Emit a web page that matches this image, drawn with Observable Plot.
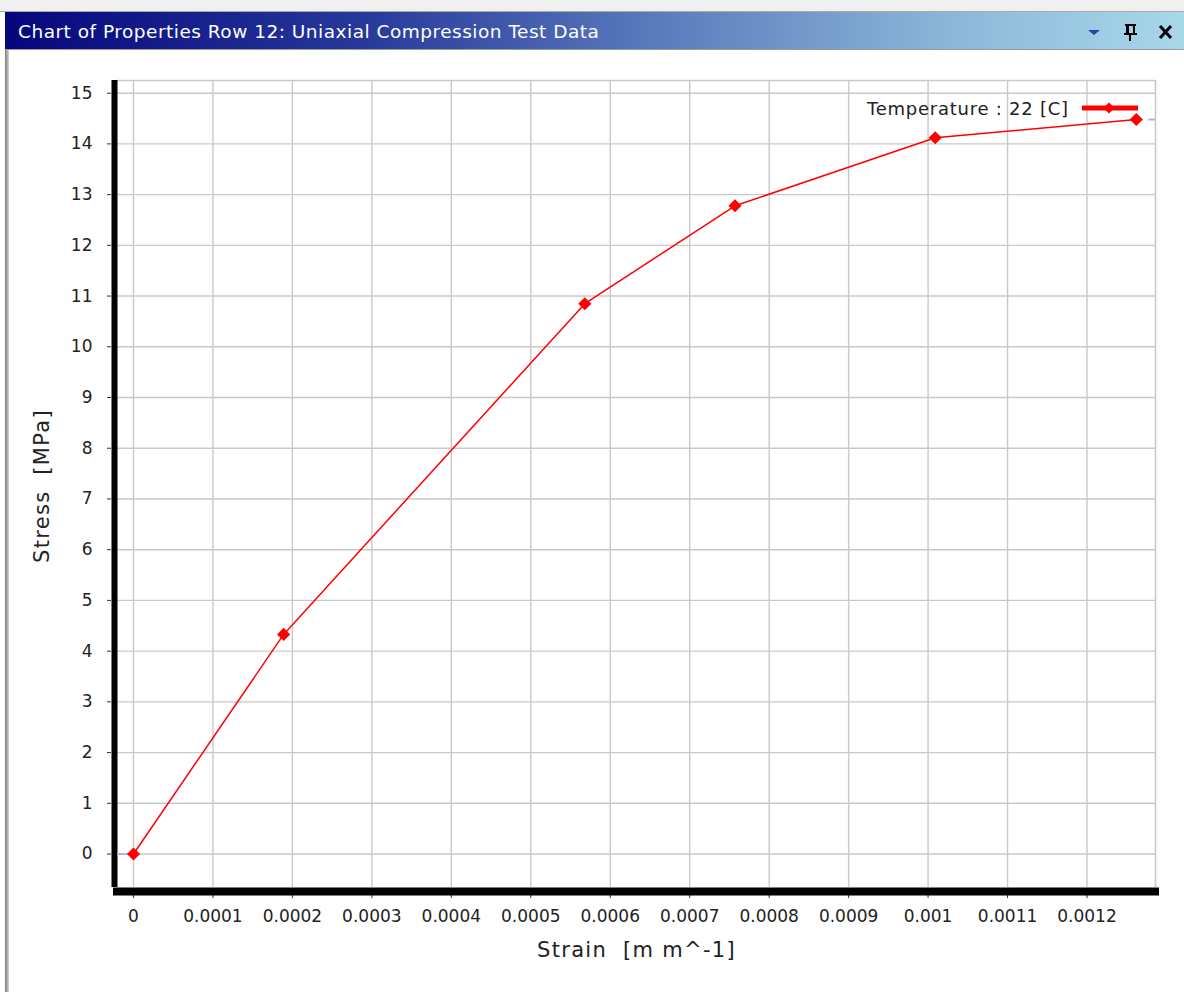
<!DOCTYPE html>
<html>
<head>
<meta charset="utf-8">
<script src="https://cdn.jsdelivr.net/npm/d3@7"></script>
<script src="https://cdn.jsdelivr.net/npm/@observablehq/plot@0.6"></script>
<style>
  html, body { margin: 0; padding: 0; background: #ffffff; width: 1184px; height: 992px; overflow: hidden; }
  #topstrip { position: absolute; left: 0; top: 0; width: 1184px; height: 11px; background: #f0f0f0; border-bottom: 1px solid #a8a8a8; }
  #bar { position: absolute; left: 5px; top: 12px; width: 1179px; height: 37px;
         background: linear-gradient(to right, #06067c 0%, #26389a 30%, #5a7abc 55%, #8cb6d8 80%, #a8d8ea 100%);
         border-bottom: 1px solid #9a9a9a; }
  #title { position: absolute; left: 13px; top: 8px; color: #ffffff; font-family: "DejaVu Sans", sans-serif;
           font-size: 18.5px; letter-spacing: 0.5px; white-space: pre; line-height: 24px; }
  #icons { position: absolute; left: 1080px; top: 20px; }
  #leftedge { position: absolute; left: 5px; top: 50px; width: 4px; height: 942px; background: linear-gradient(to right, #7c7c7c, #d4d4d4); }
  #chart { position: absolute; left: 0; top: 50px; }
  #chart svg text { white-space: pre; }
  #chart svg g[aria-label="text"] text { letter-spacing: 1.3px; }
  #legend { position: absolute; left: 867px; top: 96px; height: 24px; display: flex; align-items: center;
            font-family: "DejaVu Sans", sans-serif; font-size: 18px; letter-spacing: 0.75px; color: #222; white-space: pre; }
</style>
</head>
<body>
<div id="topstrip"></div>
<div id="leftedge"></div>
<div id="chart"></div>
<div id="bar"><div id="title"></div></div>
<svg id="icons" width="100" height="24" viewBox="0 0 100 24">
  <path d="M8,10 L20,10 L14,15 Z" fill="#3040a0"/>
  <g fill="#000">
    <rect x="45" y="4" width="11" height="2"/>
    <rect x="46" y="4" width="3" height="10"/>
    <rect x="53" y="4" width="2" height="10"/>
    <rect x="44" y="13" width="13" height="2"/>
    <rect x="49" y="15" width="2" height="6"/>
  </g>
  <path d="M80,6 L91,18 M91,6 L80,18" stroke="#000" stroke-width="3"/>
</svg>
<div id="legend"><span id="legendText"></span><svg width="64" height="14" style="margin-left:11px"><line x1="2" y1="7" x2="58" y2="7" stroke="#ff0000" stroke-width="5"/><path d="M29,1.5 L34.5,7 L29,12.5 L23.5,7 Z" fill="#ff0000"/></svg></div>
<script>
// ---- data ----
const titleText = "Chart of Properties Row 12: Uniaxial Compression Test Data";
const strain = [0, 0.000189, 0.000568, 0.000757, 0.001009, 0.001262];
const stress = [0, 4.33, 10.85, 12.78, 14.12, 14.48];
const xTicks = [0, 0.0001, 0.0002, 0.0003, 0.0004, 0.0005, 0.0006, 0.0007, 0.0008, 0.0009, 0.001, 0.0011, 0.0012];
const yTicks = [0, 1, 2, 3, 4, 5, 6, 7, 8, 9, 10, 11, 12, 13, 14, 15];
const xLabel = "Strain  [m m^-1]";
const yLabel = "Stress  [MPa]";
const legendLabel = "Temperature : 22 [C]";
const xDomain = [-0.0000201, 0.0012862];
const yDomain = [-0.66, 15.25];

document.getElementById("title").textContent = titleText;
document.getElementById("legendText").textContent = legendLabel;

const data = strain.map((x, i) => ({x, y: stress[i]}));
const first = data[0];
const last = data[data.length - 1];
const gridColor = "#c9c9c9";

const chart = Plot.plot({
  width: 1184,
  height: 942,
  marginLeft: 117,
  marginRight: 29,
  marginTop: 30,
  marginBottom: 105,
  style: {background: "transparent", fontFamily: "DejaVu Sans, sans-serif", fontSize: "17px", color: "#222"},
  x: {domain: xDomain},
  y: {domain: yDomain},
  marks: [
    Plot.gridX(xTicks, {stroke: gridColor, strokeOpacity: 1, strokeWidth: 1.4}),
    Plot.gridY(yTicks, {stroke: gridColor, strokeOpacity: 1, strokeWidth: 1.4}),
    Plot.ruleY([yDomain[1]], {stroke: gridColor, strokeWidth: 1.6}),
    Plot.ruleX([xDomain[1]], {stroke: gridColor, strokeWidth: 1.6}),
    Plot.axisX(xTicks, {tickSize: 3, tickPadding: 11, dy: 8, stroke: "#333", fill: "#222", fontSize: 17,
      tickFormat: d => String(+d.toFixed(4)), label: null}),
    Plot.axisY(yTicks, {tickSize: 4, tickPadding: 15, dx: -6, stroke: "#333", fill: "#222", fontSize: 17,
      tickFormat: d => String(d), label: null}),
    Plot.ruleX([xDomain[0]], {stroke: "#000", strokeWidth: 6, dx: -3}),
    Plot.ruleY([yDomain[0]], {stroke: "#000", strokeWidth: 8, dy: 4, strokeLinecap: "square"}),
    Plot.ruleY([first], {y: "y", x1: xDomain[0], x2: first.x, stroke: "#aab0f0", strokeWidth: 2}),
    Plot.ruleY([last], {y: "y", x1: last.x + 0.000016, x2: xDomain[1], stroke: "#aab0f0", strokeWidth: 2}),
    Plot.line(data, {x: "x", y: "y", stroke: "#ff0000", strokeWidth: 1.5}),
    Plot.dot(data, {x: "x", y: "y", symbol: "diamond2", r: 5.9, fill: "#ff0000", stroke: "none"}),
    Plot.text([xLabel], {text: d => d, frameAnchor: "bottom", textAnchor: "middle", lineAnchor: "middle", dy: 63,
      fontSize: 21, fill: "#222"}),
    Plot.text([yLabel], {text: d => d, frameAnchor: "left", textAnchor: "middle", lineAnchor: "middle", rotate: -90,
      dx: -75, dy: 2, fontSize: 21, fill: "#222"})
  ]
});
document.getElementById("chart").appendChild(chart);
</script>
</body>
</html>
